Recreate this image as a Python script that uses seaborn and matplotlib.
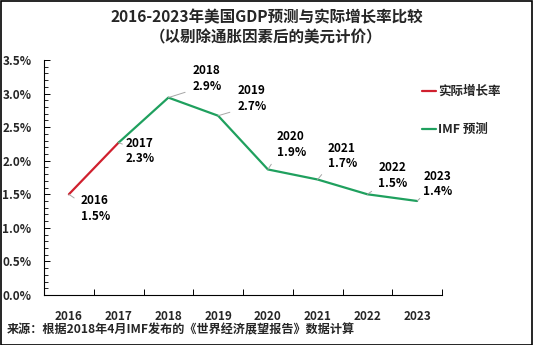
import matplotlib
matplotlib.use("Agg")
import matplotlib.pyplot as plt
import matplotlib.patches as mpatches
from matplotlib.ticker import MultipleLocator, FixedLocator, NullFormatter, FuncFormatter
import seaborn as sns
import pandas as pd

# ---- data ----
actual_years = ["2016", "2017"]
actual_values = [1.50, 2.27]
imf_years = ["2017", "2018", "2019", "2020", "2021", "2022", "2023"]
imf_values = [2.27, 2.94, 2.67, 1.87, 1.72, 1.50, 1.40]
label_years = ["2016", "2017", "2018", "2019", "2020", "2021", "2022", "2023"]
label_values = [1.50, 2.27, 2.94, 2.67, 1.87, 1.72, 1.50, 1.40]
label_texts = ["1.5%", "2.3%", "2.9%", "2.7%", "1.9%", "1.7%", "1.5%", "1.4%"]
series_names = ["实际增长率", "IMF预测"]
legend_texts = ["实际增长率", "IMF 预测"]
title = "2016-2023年美国GDP预测与实际增长率比较\n（以剔除通胀因素后的美元计价）"
source = "来源：根据2018年4月IMF发布的《世界经济展望报告》数据计算"

# label offsets in pixels (layout)
offsets = [(12, -14), (7, -8.5), (24, 19), (19, 17), (9, 25), (10, 23.5), (11, 19), (6, 17)]

sns.set_theme(style="white")
plt.rcParams["font.family"] = ["Noto Sans CJK SC", "DejaVu Sans"]
plt.rcParams["font.weight"] = "bold"

df = pd.DataFrame({
    "year": actual_years + imf_years,
    "value": actual_values + imf_values,
    "series": [series_names[0]] * len(actual_years) + [series_names[1]] * len(imf_years),
})

red = "#d0202e"
green = "#1fa05e"
palette = {series_names[0]: red, series_names[1]: green}

fig = plt.figure(figsize=(5.33, 3.45), dpi=100)
ax = fig.add_axes([44 / 533, 1 - 295 / 345, (442 - 44) / 533, (295 - 60) / 345])

sns.lineplot(data=df, x="year", y="value", hue="series", palette=palette,
             sort=False, linewidth=1.6, ax=ax, legend=False)

ax.set_xlim(-0.5, 7.5)
ax.set_ylim(0, 3.5)
ax.set_xlabel("")
ax.set_ylabel("")

for s in ["top", "right"]:
    ax.spines[s].set_visible(False)
for s in ["left", "bottom"]:
    ax.spines[s].set_color("black")
    ax.spines[s].set_linewidth(0.8)

# y ticks
ax.yaxis.set_major_locator(MultipleLocator(0.5))
ax.yaxis.set_minor_locator(MultipleLocator(0.1))
ax.yaxis.set_major_formatter(FuncFormatter(lambda v, p: f"{v:.1f}%"))
ax.tick_params(axis="y", which="major", direction="in", length=4, width=0.7,
               color="black", labelsize=8.5, pad=9, left=True)
ax.tick_params(axis="y", which="minor", direction="in", length=3, width=0.6,
               color="black", left=True)

# x ticks: labels at centers, tick marks at boundaries
ax.xaxis.set_major_locator(FixedLocator(range(len(label_years))))
ax.set_xticklabels(label_years)
ax.xaxis.set_minor_locator(FixedLocator([i + 0.5 for i in range(len(label_years))]))
ax.xaxis.set_minor_formatter(NullFormatter())
ax.tick_params(axis="x", which="major", length=0, labelsize=8.5, pad=11, bottom=True)
ax.tick_params(axis="x", which="minor", direction="in", length=4, width=0.7,
               color="black", bottom=True)
for t in ax.get_xticklabels() + ax.get_yticklabels():
    t.set_fontweight("bold")

# data labels
for yr, v, txt, off in zip(label_years, label_values, label_texts, offsets):
    below = off[1] < 0
    ax.annotate(f"{yr}\n{txt}", xy=(yr, v), xytext=off, textcoords="offset pixels",
                ha="left", va="center", fontsize=8.5, fontweight="bold",
                linespacing=1.25, color="black",
                arrowprops=dict(arrowstyle="-", color="#a6a6a6", lw=0.7,
                                shrinkA=3, shrinkB=0,
                                relpos=(0, 0.7) if below else (0, 0.1)))

# legend
handles = [plt.Line2D([], [], color=red, lw=1.6), plt.Line2D([], [], color=green, lw=1.6)]
leg = fig.legend(handles, legend_texts, loc="upper left",
                 bbox_to_anchor=(422 / 533, 1 - 85 / 345), frameon=False,
                 prop={"size": 9, "weight": "bold"}, handlelength=1.15,
                 handletextpad=0.12, labelspacing=2.0, borderpad=0, borderaxespad=0)

fig.text(0.5, 1 - 27 / 345, title, ha="center", va="center", fontsize=11.2,
         fontweight="bold", linespacing=1.3)
fig.text(7 / 533, 1 - 330 / 345, source, ha="left", va="center", fontsize=8.7,
         fontweight="bold")

fig.patches.append(mpatches.Rectangle((0.001, 0.001), 0.997, 0.997, transform=fig.transFigure,
                                      fill=False, edgecolor="black", lw=1.2))

fig.savefig("out.png", dpi=100)
